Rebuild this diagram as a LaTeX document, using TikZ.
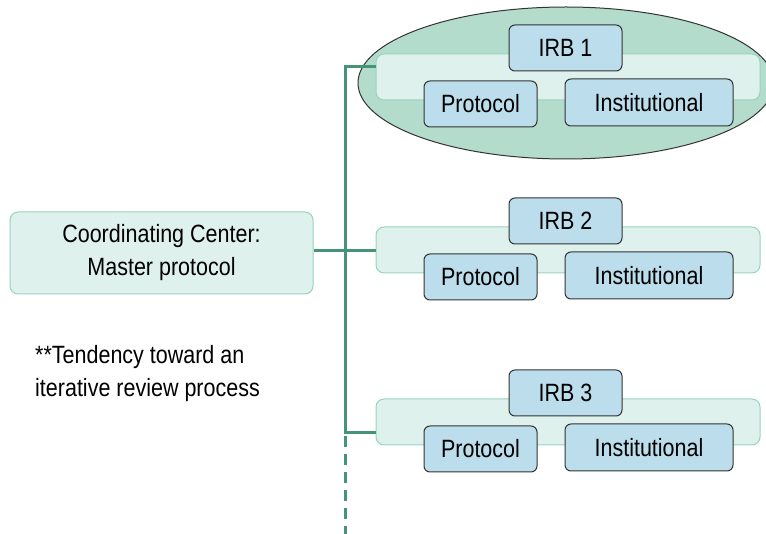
\documentclass[tikz,border=0pt]{standalone}
\usepackage{fontspec}
\setmainfont{Liberation Sans}[FakeStretch=0.86]
\usetikzlibrary{shapes.geometric}
\definecolor{linegreen}{RGB}{70,148,120}
\definecolor{ellgreen}{RGB}{180,220,205}
\definecolor{barfill}{RGB}{223,241,236}
\definecolor{barline}{RGB}{150,212,190}
\definecolor{boxblue}{RGB}{188,221,236}
\tikzset{
  txt/.style={font=\fontsize{25}{33}\selectfont},
  bluebox/.style={draw=black!80, line width=1pt, fill=boxblue, rounded corners=6pt, inner sep=0pt, txt},
  barbox/.style={draw=barline, line width=1pt, fill=barfill, rounded corners=8pt, inner sep=0pt},
  conn/.style={draw=linegreen, line width=3pt},
}
\begin{document}
\begin{tikzpicture}[x=1pt,y=-1pt]
\useasboundingbox (0,0) rectangle (766,534);
% ellipse around group 1
\node[ellipse, draw=black!80, line width=1pt, fill=ellgreen, minimum width=416pt, minimum height=152pt, inner sep=0pt] (ell1) at (566,83) {};
% coordinating center
\node[barbox, minimum width=303pt, minimum height=82pt, align=center, txt] (cc) at (161.5,253) {Coordinating Center:\\Master protocol};
% groups
\foreach \i/\off/\jy in {1/0/67, 2/173/251, 3/345/433} {
  \node[barbox, minimum width=384pt, minimum height=46pt] (bar\i) at (568,77+\off) {};
  \node[bluebox, minimum width=113pt, minimum height=46pt] (irb\i) at (565.5,48+\off) {IRB \i};
  \node[bluebox, minimum width=113pt, minimum height=46pt] (prot\i) at (480.5,104+\off) {Protocol};
  \node[bluebox, minimum width=168pt, minimum height=47pt] (inst\i) at (649,102.5+\off) {Institutional};
  \coordinate (j\i) at (345,\jy);
}
% connectors
\draw[conn] (j1 -| bar1.west) -- (j1) -- (j3) -- (j3 -| bar3.west);
\draw[conn] (j2) -- (j2 -| bar2.west);
\draw[conn] (j2 -| cc.east) -- (j2);
\coordinate (dend) at (345,534);
\draw[conn, dash pattern=on 11pt off 7pt] ([yshift=-3pt]j3) -- (dend);
% note
\node[txt, anchor=west, align=left, inner sep=0pt] (note) at (35,374) {**Tendency toward an\\iterative review process};
\end{tikzpicture}
\end{document}
